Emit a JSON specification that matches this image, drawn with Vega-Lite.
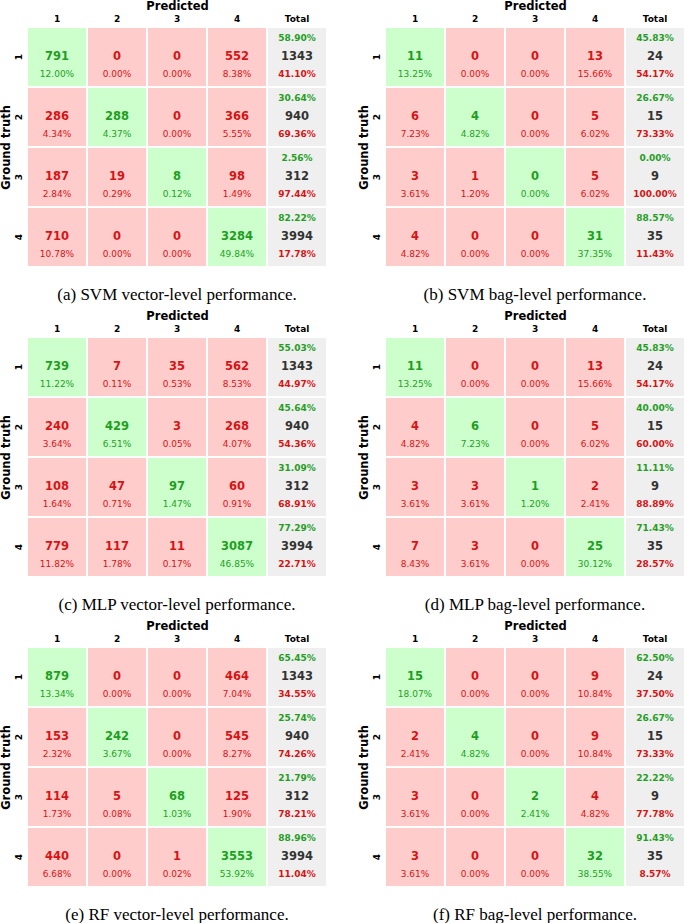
{
  "$schema": "https://vega.github.io/schema/vega-lite/v6.json",
  "padding": 0,
  "background": "white",
  "data": {"values": [
    {"p":"a","t":"1","c":"1","n":791,"s":"12.00%"},{"p":"a","t":"1","c":"2","n":0,"s":"0.00%"},{"p":"a","t":"1","c":"3","n":0,"s":"0.00%"},{"p":"a","t":"1","c":"4","n":552,"s":"8.38%"},{"p":"a","t":"1","c":"Total","n":1343,"s":"41.10%","u":"58.90%"},
    {"p":"a","t":"2","c":"1","n":286,"s":"4.34%"},{"p":"a","t":"2","c":"2","n":288,"s":"4.37%"},{"p":"a","t":"2","c":"3","n":0,"s":"0.00%"},{"p":"a","t":"2","c":"4","n":366,"s":"5.55%"},{"p":"a","t":"2","c":"Total","n":940,"s":"69.36%","u":"30.64%"},
    {"p":"a","t":"3","c":"1","n":187,"s":"2.84%"},{"p":"a","t":"3","c":"2","n":19,"s":"0.29%"},{"p":"a","t":"3","c":"3","n":8,"s":"0.12%"},{"p":"a","t":"3","c":"4","n":98,"s":"1.49%"},{"p":"a","t":"3","c":"Total","n":312,"s":"97.44%","u":"2.56%"},
    {"p":"a","t":"4","c":"1","n":710,"s":"10.78%"},{"p":"a","t":"4","c":"2","n":0,"s":"0.00%"},{"p":"a","t":"4","c":"3","n":0,"s":"0.00%"},{"p":"a","t":"4","c":"4","n":3284,"s":"49.84%"},{"p":"a","t":"4","c":"Total","n":3994,"s":"17.78%","u":"82.22%"},

    {"p":"b","t":"1","c":"1","n":11,"s":"13.25%"},{"p":"b","t":"1","c":"2","n":0,"s":"0.00%"},{"p":"b","t":"1","c":"3","n":0,"s":"0.00%"},{"p":"b","t":"1","c":"4","n":13,"s":"15.66%"},{"p":"b","t":"1","c":"Total","n":24,"s":"54.17%","u":"45.83%"},
    {"p":"b","t":"2","c":"1","n":6,"s":"7.23%"},{"p":"b","t":"2","c":"2","n":4,"s":"4.82%"},{"p":"b","t":"2","c":"3","n":0,"s":"0.00%"},{"p":"b","t":"2","c":"4","n":5,"s":"6.02%"},{"p":"b","t":"2","c":"Total","n":15,"s":"73.33%","u":"26.67%"},
    {"p":"b","t":"3","c":"1","n":3,"s":"3.61%"},{"p":"b","t":"3","c":"2","n":1,"s":"1.20%"},{"p":"b","t":"3","c":"3","n":0,"s":"0.00%"},{"p":"b","t":"3","c":"4","n":5,"s":"6.02%"},{"p":"b","t":"3","c":"Total","n":9,"s":"100.00%","u":"0.00%"},
    {"p":"b","t":"4","c":"1","n":4,"s":"4.82%"},{"p":"b","t":"4","c":"2","n":0,"s":"0.00%"},{"p":"b","t":"4","c":"3","n":0,"s":"0.00%"},{"p":"b","t":"4","c":"4","n":31,"s":"37.35%"},{"p":"b","t":"4","c":"Total","n":35,"s":"11.43%","u":"88.57%"},

    {"p":"c","t":"1","c":"1","n":739,"s":"11.22%"},{"p":"c","t":"1","c":"2","n":7,"s":"0.11%"},{"p":"c","t":"1","c":"3","n":35,"s":"0.53%"},{"p":"c","t":"1","c":"4","n":562,"s":"8.53%"},{"p":"c","t":"1","c":"Total","n":1343,"s":"44.97%","u":"55.03%"},
    {"p":"c","t":"2","c":"1","n":240,"s":"3.64%"},{"p":"c","t":"2","c":"2","n":429,"s":"6.51%"},{"p":"c","t":"2","c":"3","n":3,"s":"0.05%"},{"p":"c","t":"2","c":"4","n":268,"s":"4.07%"},{"p":"c","t":"2","c":"Total","n":940,"s":"54.36%","u":"45.64%"},
    {"p":"c","t":"3","c":"1","n":108,"s":"1.64%"},{"p":"c","t":"3","c":"2","n":47,"s":"0.71%"},{"p":"c","t":"3","c":"3","n":97,"s":"1.47%"},{"p":"c","t":"3","c":"4","n":60,"s":"0.91%"},{"p":"c","t":"3","c":"Total","n":312,"s":"68.91%","u":"31.09%"},
    {"p":"c","t":"4","c":"1","n":779,"s":"11.82%"},{"p":"c","t":"4","c":"2","n":117,"s":"1.78%"},{"p":"c","t":"4","c":"3","n":11,"s":"0.17%"},{"p":"c","t":"4","c":"4","n":3087,"s":"46.85%"},{"p":"c","t":"4","c":"Total","n":3994,"s":"22.71%","u":"77.29%"},

    {"p":"d","t":"1","c":"1","n":11,"s":"13.25%"},{"p":"d","t":"1","c":"2","n":0,"s":"0.00%"},{"p":"d","t":"1","c":"3","n":0,"s":"0.00%"},{"p":"d","t":"1","c":"4","n":13,"s":"15.66%"},{"p":"d","t":"1","c":"Total","n":24,"s":"54.17%","u":"45.83%"},
    {"p":"d","t":"2","c":"1","n":4,"s":"4.82%"},{"p":"d","t":"2","c":"2","n":6,"s":"7.23%"},{"p":"d","t":"2","c":"3","n":0,"s":"0.00%"},{"p":"d","t":"2","c":"4","n":5,"s":"6.02%"},{"p":"d","t":"2","c":"Total","n":15,"s":"60.00%","u":"40.00%"},
    {"p":"d","t":"3","c":"1","n":3,"s":"3.61%"},{"p":"d","t":"3","c":"2","n":3,"s":"3.61%"},{"p":"d","t":"3","c":"3","n":1,"s":"1.20%"},{"p":"d","t":"3","c":"4","n":2,"s":"2.41%"},{"p":"d","t":"3","c":"Total","n":9,"s":"88.89%","u":"11.11%"},
    {"p":"d","t":"4","c":"1","n":7,"s":"8.43%"},{"p":"d","t":"4","c":"2","n":3,"s":"3.61%"},{"p":"d","t":"4","c":"3","n":0,"s":"0.00%"},{"p":"d","t":"4","c":"4","n":25,"s":"30.12%"},{"p":"d","t":"4","c":"Total","n":35,"s":"28.57%","u":"71.43%"},

    {"p":"e","t":"1","c":"1","n":879,"s":"13.34%"},{"p":"e","t":"1","c":"2","n":0,"s":"0.00%"},{"p":"e","t":"1","c":"3","n":0,"s":"0.00%"},{"p":"e","t":"1","c":"4","n":464,"s":"7.04%"},{"p":"e","t":"1","c":"Total","n":1343,"s":"34.55%","u":"65.45%"},
    {"p":"e","t":"2","c":"1","n":153,"s":"2.32%"},{"p":"e","t":"2","c":"2","n":242,"s":"3.67%"},{"p":"e","t":"2","c":"3","n":0,"s":"0.00%"},{"p":"e","t":"2","c":"4","n":545,"s":"8.27%"},{"p":"e","t":"2","c":"Total","n":940,"s":"74.26%","u":"25.74%"},
    {"p":"e","t":"3","c":"1","n":114,"s":"1.73%"},{"p":"e","t":"3","c":"2","n":5,"s":"0.08%"},{"p":"e","t":"3","c":"3","n":68,"s":"1.03%"},{"p":"e","t":"3","c":"4","n":125,"s":"1.90%"},{"p":"e","t":"3","c":"Total","n":312,"s":"78.21%","u":"21.79%"},
    {"p":"e","t":"4","c":"1","n":440,"s":"6.68%"},{"p":"e","t":"4","c":"2","n":0,"s":"0.00%"},{"p":"e","t":"4","c":"3","n":1,"s":"0.02%"},{"p":"e","t":"4","c":"4","n":3553,"s":"53.92%"},{"p":"e","t":"4","c":"Total","n":3994,"s":"11.04%","u":"88.96%"},

    {"p":"f","t":"1","c":"1","n":15,"s":"18.07%"},{"p":"f","t":"1","c":"2","n":0,"s":"0.00%"},{"p":"f","t":"1","c":"3","n":0,"s":"0.00%"},{"p":"f","t":"1","c":"4","n":9,"s":"10.84%"},{"p":"f","t":"1","c":"Total","n":24,"s":"37.50%","u":"62.50%"},
    {"p":"f","t":"2","c":"1","n":2,"s":"2.41%"},{"p":"f","t":"2","c":"2","n":4,"s":"4.82%"},{"p":"f","t":"2","c":"3","n":0,"s":"0.00%"},{"p":"f","t":"2","c":"4","n":9,"s":"10.84%"},{"p":"f","t":"2","c":"Total","n":15,"s":"73.33%","u":"26.67%"},
    {"p":"f","t":"3","c":"1","n":3,"s":"3.61%"},{"p":"f","t":"3","c":"2","n":0,"s":"0.00%"},{"p":"f","t":"3","c":"3","n":2,"s":"2.41%"},{"p":"f","t":"3","c":"4","n":4,"s":"4.82%"},{"p":"f","t":"3","c":"Total","n":9,"s":"77.78%","u":"22.22%"},
    {"p":"f","t":"4","c":"1","n":3,"s":"3.61%"},{"p":"f","t":"4","c":"2","n":0,"s":"0.00%"},{"p":"f","t":"4","c":"3","n":0,"s":"0.00%"},{"p":"f","t":"4","c":"4","n":32,"s":"38.55%"},{"p":"f","t":"4","c":"Total","n":35,"s":"8.57%","u":"91.43%"}
  ]},
  "facet": {
    "field": "p",
    "type": "nominal",
    "sort": ["a","b","c","d","e","f"],
    "header": {
      "title": null,
      "labelOrient": "bottom",
      "labelFont": "Liberation Serif",
      "labelFontSize": 17,
      "labelColor": "black",
      "labelPadding": 19,
      "labelExpr": "{'a':'(a) SVM vector-level performance.','b':'(b) SVM bag-level performance.','c':'(c) MLP vector-level performance.','d':'(d) MLP bag-level performance.','e':'(e) RF vector-level performance.','f':'(f) RF bag-level performance.'}[datum.value]"
    }
  },
  "columns": 2,
  "spacing": {"row": 70, "column": 58},
  "bounds": "flush",
  "resolve": {"axis": {"x": "independent", "y": "independent"}},
  "spec": {
    "width": 300,
    "height": 240,
    "encoding": {
      "x": {"field": "c", "type": "nominal", "sort": ["1","2","3","4","Total"],
            "scale": {"paddingInner": 0, "paddingOuter": 0},
            "axis": {"orient": "top", "labelAngle": 0, "labelPadding": 4, "titlePadding": 3, "title": "Predicted"}},
      "y": {"field": "t", "type": "nominal", "sort": ["1","2","3","4"],
            "scale": {"paddingInner": 0, "paddingOuter": 0},
            "axis": {"labelAngle": -90, "labelPadding": 4, "titlePadding": 3, "title": "Ground truth"}}
    },
    "layer": [
      {"mark": {"type": "rect", "stroke": "white", "strokeWidth": 2},
       "encoding": {"fill": {"condition": [{"test": "datum.c==='Total'", "value": "#efefef"}, {"test": "datum.c===datum.t", "value": "#ccffcc"}], "value": "#ffcccc"}}},
      {"mark": {"type": "text", "font": "DejaVu Sans", "fontSize": 11.5, "fontWeight": "bold", "baseline": "middle"},
       "encoding": {"text": {"field": "n", "type": "nominal"},
                    "color": {"condition": [{"test": "datum.c==='Total'", "value": "#333333"}, {"test": "datum.c===datum.t", "value": "#1f9e1f"}], "value": "#d61414"}}},
      {"transform": [{"filter": "datum.c!=='Total'"}],
       "mark": {"type": "text", "font": "DejaVu Sans", "fontSize": 9, "baseline": "middle", "dy": 16.5},
       "encoding": {"text": {"field": "s", "type": "nominal"},
                    "color": {"condition": [{"test": "datum.c===datum.t", "value": "#1f9e1f"}], "value": "#d61414"}}},
      {"transform": [{"filter": "datum.c==='Total'"}],
       "mark": {"type": "text", "font": "DejaVu Sans", "fontSize": 9, "fontWeight": "bold", "baseline": "middle", "dy": 16.5, "color": "#d61414"},
       "encoding": {"text": {"field": "s", "type": "nominal"}}},
      {"transform": [{"filter": "datum.c==='Total'"}],
       "mark": {"type": "text", "font": "DejaVu Sans", "fontSize": 9, "fontWeight": "bold", "baseline": "middle", "dy": -19, "color": "#1f9e1f"},
       "encoding": {"text": {"field": "u", "type": "nominal"}}}
    ]
  },
  "config": {
    "view": {"stroke": null},
    "axis": {"domain": false, "ticks": false, "grid": false,
             "labelFont": "DejaVu Sans", "labelFontWeight": "bold", "labelFontSize": 9, "labelColor": "black",
             "titleFont": "DejaVu Sans", "titleFontWeight": "bold", "titleFontSize": 11.5, "titleColor": "black"}
  }
}
